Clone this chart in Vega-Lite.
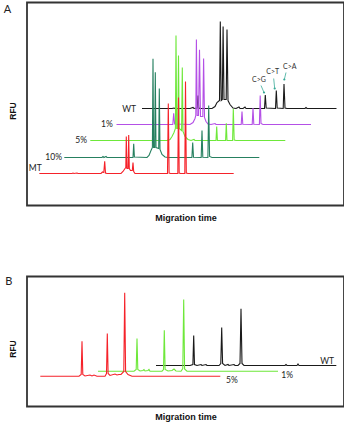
{
"$schema": "https://vega.github.io/schema/vega-lite/v6.json",
"padding": {"left": 2, "top": 1.5, "right": 0, "bottom": 0},
"spacing": 51,
"config": {"view": {"stroke": "#333", "strokeWidth": 1.8}, "axis": {"grid": false, "labels": false, "ticks": false, "domain": false, "titleFont": "Liberation Sans", "titleFontWeight": "bold", "titleFontSize": 9, "titleColor": "#111"}, "axisY": {"titleFontSize": 8.5}},
"datasets": {
"traces": [
{"p":"A","s":"WT","t":115,"v":97},{"p":"A","s":"WT","t":145,"v":97},{"p":"A","s":"WT","t":147,"v":97.5},{"p":"A","s":"WT","t":148,"v":97},{"p":"A","s":"WT","t":163,"v":97},{"p":"A","s":"WT","t":166,"v":98},{"p":"A","s":"WT","t":167,"v":97},{"p":"A","s":"WT","t":170.2,"v":97.5},{"p":"A","s":"WT","t":171,"v":110},{"p":"A","s":"WT","t":171.8,"v":97.5},{"p":"A","s":"WT","t":173,"v":97},{"p":"A","s":"WT","t":185,"v":97},{"p":"A","s":"WT","t":188,"v":99},{"p":"A","s":"WT","t":190,"v":103},{"p":"A","s":"WT","t":192.5,"v":105},{"p":"A","s":"WT","t":193.3,"v":184},{"p":"A","s":"WT","t":194.2,"v":105},{"p":"A","s":"WT","t":195.3,"v":106},{"p":"A","s":"WT","t":196.1,"v":179},{"p":"A","s":"WT","t":197,"v":106},{"p":"A","s":"WT","t":199.2,"v":106},{"p":"A","s":"WT","t":200,"v":176},{"p":"A","s":"WT","t":201,"v":105},{"p":"A","s":"WT","t":203,"v":101},{"p":"A","s":"WT","t":206,"v":97.5},{"p":"A","s":"WT","t":209,"v":97},{"p":"A","s":"WT","t":212,"v":98.5},{"p":"A","s":"WT","t":213,"v":97},{"p":"A","s":"WT","t":216,"v":97},{"p":"A","s":"WT","t":218,"v":98.5},{"p":"A","s":"WT","t":219,"v":97},{"p":"A","s":"WT","t":237.5,"v":97},{"p":"A","s":"WT","t":238.3,"v":110.5},{"p":"A","s":"WT","t":239.2,"v":97.5},{"p":"A","s":"WT","t":248.5,"v":97},{"p":"A","s":"WT","t":249.3,"v":115},{"p":"A","s":"WT","t":250.2,"v":97.5},{"p":"A","s":"WT","t":256.2,"v":97},{"p":"A","s":"WT","t":257,"v":121.5},{"p":"A","s":"WT","t":258,"v":97.5},{"p":"A","s":"WT","t":260,"v":97},{"p":"A","s":"WT","t":278,"v":97},{"p":"A","s":"WT","t":279,"v":98},{"p":"A","s":"WT","t":280,"v":97},{"p":"A","s":"WT","t":309.5,"v":97},
{"p":"A","s":"1%","t":89.5,"v":81},{"p":"A","s":"1%","t":125,"v":81},{"p":"A","s":"1%","t":145.8,"v":81},{"p":"A","s":"1%","t":146.7,"v":92.3},{"p":"A","s":"1%","t":147.6,"v":81.5},{"p":"A","s":"1%","t":163,"v":81},{"p":"A","s":"1%","t":166,"v":83},{"p":"A","s":"1%","t":168,"v":87},{"p":"A","s":"1%","t":168.8,"v":90},{"p":"A","s":"1%","t":169.4,"v":166},{"p":"A","s":"1%","t":170.2,"v":90},{"p":"A","s":"1%","t":171.5,"v":90},{"p":"A","s":"1%","t":172.5,"v":155.7},{"p":"A","s":"1%","t":173.5,"v":89},{"p":"A","s":"1%","t":175.8,"v":89},{"p":"A","s":"1%","t":176.6,"v":147},{"p":"A","s":"1%","t":177.5,"v":88},{"p":"A","s":"1%","t":179,"v":84},{"p":"A","s":"1%","t":181,"v":81.5},{"p":"A","s":"1%","t":184,"v":81},{"p":"A","s":"1%","t":188,"v":82},{"p":"A","s":"1%","t":189,"v":81},{"p":"A","s":"1%","t":214.2,"v":81},{"p":"A","s":"1%","t":215,"v":94},{"p":"A","s":"1%","t":215.8,"v":81.2},{"p":"A","s":"1%","t":225.2,"v":81},{"p":"A","s":"1%","t":226,"v":97.5},{"p":"A","s":"1%","t":226.8,"v":81.2},{"p":"A","s":"1%","t":232.4,"v":81},{"p":"A","s":"1%","t":233.2,"v":110},{"p":"A","s":"1%","t":234,"v":82},{"p":"A","s":"1%","t":236,"v":81},{"p":"A","s":"1%","t":284,"v":81},
{"p":"A","s":"5%","t":63.3,"v":65},{"p":"A","s":"5%","t":140,"v":65},{"p":"A","s":"5%","t":143,"v":66},{"p":"A","s":"5%","t":145,"v":69},{"p":"A","s":"5%","t":147,"v":73},{"p":"A","s":"5%","t":148.4,"v":77},{"p":"A","s":"5%","t":149,"v":170},{"p":"A","s":"5%","t":149.7,"v":77},{"p":"A","s":"5%","t":150.8,"v":77},{"p":"A","s":"5%","t":151.5,"v":150},{"p":"A","s":"5%","t":152.2,"v":77},{"p":"A","s":"5%","t":154.6,"v":75},{"p":"A","s":"5%","t":155.3,"v":138},{"p":"A","s":"5%","t":156,"v":74},{"p":"A","s":"5%","t":158,"v":69},{"p":"A","s":"5%","t":161,"v":66},{"p":"A","s":"5%","t":164,"v":65},{"p":"A","s":"5%","t":167,"v":66},{"p":"A","s":"5%","t":168,"v":65},{"p":"A","s":"5%","t":189,"v":65},{"p":"A","s":"5%","t":189.7,"v":79},{"p":"A","s":"5%","t":190.4,"v":65},{"p":"A","s":"5%","t":198.6,"v":65},{"p":"A","s":"5%","t":199.3,"v":82.3},{"p":"A","s":"5%","t":200,"v":65},{"p":"A","s":"5%","t":205.6,"v":65},{"p":"A","s":"5%","t":206.3,"v":96.7},{"p":"A","s":"5%","t":207.2,"v":65.5},{"p":"A","s":"5%","t":209,"v":65},{"p":"A","s":"5%","t":258.3,"v":65},
{"p":"A","s":"10%","t":37.3,"v":48},{"p":"A","s":"10%","t":75,"v":48},{"p":"A","s":"10%","t":76,"v":49},{"p":"A","s":"10%","t":77,"v":48},{"p":"A","s":"10%","t":79,"v":49},{"p":"A","s":"10%","t":80,"v":48},{"p":"A","s":"10%","t":106,"v":48},{"p":"A","s":"10%","t":106.7,"v":61.7},{"p":"A","s":"10%","t":107.4,"v":48.5},{"p":"A","s":"10%","t":120,"v":48},{"p":"A","s":"10%","t":122,"v":50},{"p":"A","s":"10%","t":124,"v":55},{"p":"A","s":"10%","t":125.4,"v":58},{"p":"A","s":"10%","t":126,"v":146.7},{"p":"A","s":"10%","t":126.6,"v":58},{"p":"A","s":"10%","t":127.7,"v":58},{"p":"A","s":"10%","t":128.3,"v":133.3},{"p":"A","s":"10%","t":129,"v":58},{"p":"A","s":"10%","t":131.7,"v":57},{"p":"A","s":"10%","t":132.3,"v":117},{"p":"A","s":"10%","t":133,"v":56},{"p":"A","s":"10%","t":135,"v":51},{"p":"A","s":"10%","t":138,"v":48.5},{"p":"A","s":"10%","t":141,"v":48},{"p":"A","s":"10%","t":164.9,"v":48},{"p":"A","s":"10%","t":165.7,"v":63},{"p":"A","s":"10%","t":166.5,"v":48.2},{"p":"A","s":"10%","t":174.2,"v":48},{"p":"A","s":"10%","t":175,"v":75},{"p":"A","s":"10%","t":175.8,"v":48.2},{"p":"A","s":"10%","t":180.9,"v":48},{"p":"A","s":"10%","t":181.7,"v":100},{"p":"A","s":"10%","t":182.6,"v":49},{"p":"A","s":"10%","t":185,"v":48},{"p":"A","s":"10%","t":232.3,"v":48},
{"p":"A","s":"MT","t":12.3,"v":32},{"p":"A","s":"MT","t":45,"v":32},{"p":"A","s":"MT","t":46,"v":32.5},{"p":"A","s":"MT","t":47,"v":32},{"p":"A","s":"MT","t":50,"v":32.5},{"p":"A","s":"MT","t":51,"v":32},{"p":"A","s":"MT","t":74,"v":32},{"p":"A","s":"MT","t":75.5,"v":33.5},{"p":"A","s":"MT","t":76.8,"v":33},{"p":"A","s":"MT","t":77.7,"v":44.3},{"p":"A","s":"MT","t":78.5,"v":32.5},{"p":"A","s":"MT","t":80,"v":32},{"p":"A","s":"MT","t":94,"v":32},{"p":"A","s":"MT","t":96,"v":34},{"p":"A","s":"MT","t":98,"v":37},{"p":"A","s":"MT","t":98.8,"v":38},{"p":"A","s":"MT","t":99.3,"v":69},{"p":"A","s":"MT","t":99.9,"v":37},{"p":"A","s":"MT","t":101.1,"v":37},{"p":"A","s":"MT","t":101.7,"v":70.5},{"p":"A","s":"MT","t":102.3,"v":37},{"p":"A","s":"MT","t":103.5,"v":35},{"p":"A","s":"MT","t":105.3,"v":35},{"p":"A","s":"MT","t":106,"v":43},{"p":"A","s":"MT","t":106.7,"v":34},{"p":"A","s":"MT","t":108,"v":32},{"p":"A","s":"MT","t":125,"v":32},{"p":"A","s":"MT","t":140.5,"v":32},{"p":"A","s":"MT","t":141.3,"v":102},{"p":"A","s":"MT","t":142.1,"v":32.5},{"p":"A","s":"MT","t":143.5,"v":32},{"p":"A","s":"MT","t":150.8,"v":32},{"p":"A","s":"MT","t":151.5,"v":108},{"p":"A","s":"MT","t":152.2,"v":32.5},{"p":"A","s":"MT","t":153.5,"v":32},{"p":"A","s":"MT","t":157.8,"v":32},{"p":"A","s":"MT","t":158.5,"v":124},{"p":"A","s":"MT","t":159.3,"v":32.5},{"p":"A","s":"MT","t":161,"v":32},{"p":"A","s":"MT","t":206.7,"v":32},
{"p":"B","s":"WT","t":129,"v":41},{"p":"B","s":"WT","t":163,"v":41},{"p":"B","s":"WT","t":165.9,"v":42},{"p":"B","s":"WT","t":166.7,"v":71},{"p":"B","s":"WT","t":167.5,"v":42},{"p":"B","s":"WT","t":170,"v":41},{"p":"B","s":"WT","t":174,"v":42},{"p":"B","s":"WT","t":175,"v":41},{"p":"B","s":"WT","t":179,"v":42},{"p":"B","s":"WT","t":180,"v":41},{"p":"B","s":"WT","t":192,"v":41},{"p":"B","s":"WT","t":193.8,"v":43},{"p":"B","s":"WT","t":194.7,"v":79},{"p":"B","s":"WT","t":195.6,"v":43},{"p":"B","s":"WT","t":198,"v":41},{"p":"B","s":"WT","t":201,"v":42},{"p":"B","s":"WT","t":202,"v":41},{"p":"B","s":"WT","t":207,"v":42},{"p":"B","s":"WT","t":208,"v":41},{"p":"B","s":"WT","t":211,"v":41},{"p":"B","s":"WT","t":213,"v":43},{"p":"B","s":"WT","t":214,"v":97.7},{"p":"B","s":"WT","t":215,"v":43},{"p":"B","s":"WT","t":217,"v":41},{"p":"B","s":"WT","t":258,"v":41},{"p":"B","s":"WT","t":259,"v":42},{"p":"B","s":"WT","t":260,"v":41},{"p":"B","s":"WT","t":270,"v":41},{"p":"B","s":"WT","t":271,"v":42.5},{"p":"B","s":"WT","t":272,"v":41},{"p":"B","s":"WT","t":309.3,"v":41},
{"p":"B","s":"1%","t":71,"v":35.3},{"p":"B","s":"1%","t":107,"v":35.3},{"p":"B","s":"1%","t":109.2,"v":37},{"p":"B","s":"1%","t":110,"v":68},{"p":"B","s":"1%","t":110.8,"v":37},{"p":"B","s":"1%","t":113,"v":35.5},{"p":"B","s":"1%","t":116,"v":36},{"p":"B","s":"1%","t":117,"v":37},{"p":"B","s":"1%","t":118,"v":35.5},{"p":"B","s":"1%","t":121,"v":36},{"p":"B","s":"1%","t":122,"v":37},{"p":"B","s":"1%","t":123,"v":35.3},{"p":"B","s":"1%","t":135,"v":35.3},{"p":"B","s":"1%","t":136.5,"v":37},{"p":"B","s":"1%","t":137.3,"v":76.3},{"p":"B","s":"1%","t":138.1,"v":37},{"p":"B","s":"1%","t":141,"v":35.5},{"p":"B","s":"1%","t":145,"v":36},{"p":"B","s":"1%","t":147,"v":37.5},{"p":"B","s":"1%","t":149,"v":35.5},{"p":"B","s":"1%","t":154,"v":35.3},{"p":"B","s":"1%","t":155.8,"v":38},{"p":"B","s":"1%","t":156.7,"v":107},{"p":"B","s":"1%","t":157.6,"v":37.5},{"p":"B","s":"1%","t":160,"v":35.3},{"p":"B","s":"1%","t":251,"v":35.3},
{"p":"B","s":"5%","t":13.3,"v":30.3},{"p":"B","s":"5%","t":52,"v":30.3},{"p":"B","s":"5%","t":54.2,"v":32},{"p":"B","s":"5%","t":55,"v":65.3},{"p":"B","s":"5%","t":55.8,"v":32},{"p":"B","s":"5%","t":58,"v":30.5},{"p":"B","s":"5%","t":63,"v":31.5},{"p":"B","s":"5%","t":65,"v":30.5},{"p":"B","s":"5%","t":67,"v":31.5},{"p":"B","s":"5%","t":70,"v":30.3},{"p":"B","s":"5%","t":78,"v":30.3},{"p":"B","s":"5%","t":79.5,"v":33},{"p":"B","s":"5%","t":80.3,"v":73},{"p":"B","s":"5%","t":81.1,"v":33},{"p":"B","s":"5%","t":83,"v":31},{"p":"B","s":"5%","t":88,"v":32.5},{"p":"B","s":"5%","t":90,"v":31.5},{"p":"B","s":"5%","t":92,"v":32},{"p":"B","s":"5%","t":94,"v":32},{"p":"B","s":"5%","t":96.8,"v":35},{"p":"B","s":"5%","t":97.7,"v":113.7},{"p":"B","s":"5%","t":98.6,"v":35},{"p":"B","s":"5%","t":101,"v":32},{"p":"B","s":"5%","t":105,"v":30.3},{"p":"B","s":"5%","t":193.3,"v":30.3}
],
"labels": [
{"p":"A","k":"right","txt":"WT","t":110,"v":97},
{"p":"A","k":"right","txt":"1%","t":86.7,"v":82},
{"p":"A","k":"right","txt":"5%","t":61,"v":65.7},
{"p":"A","k":"right","txt":"10%","t":36,"v":49},
{"p":"A","k":"right","txt":"MT","t":15.7,"v":37.5},
{"p":"B","k":"right","txt":"WT","t":307,"v":45.3},
{"p":"B","k":"left","txt":"1%","t":254.3,"v":32},
{"p":"B","k":"left","txt":"5%","t":199,"v":26.3}
],
"panels": [
{"p":"A","txt":"A","t":-19.5,"v":196},
{"p":"B","txt":"B","t":-18.3,"v":125}
],
"mutations": [
{"txt":"C>G","t":232,"v":126,"t1":234,"v1":120,"t2":237,"v2":113},
{"txt":"C>T","t":245.7,"v":133.3,"t1":246.7,"v1":127,"t2":247.7,"v2":117},
{"txt":"C>A","t":262.7,"v":139,"t1":259,"v1":133,"t2":257.3,"v2":126}
]
},
"vconcat": [
{
"width": 317, "height": 203,
"layer": [
{"data": {"name": "traces"}, "transform": [{"filter": "datum.p === 'A'"}],
 "mark": {"type": "line", "strokeWidth": 1.1},
 "encoding": {
  "x": {"field": "t", "type": "quantitative", "scale": {"domain": [0, 317], "nice": false, "zero": false}, "axis": {"title": "Migration time", "titlePadding": 8}},
  "y": {"field": "v", "type": "quantitative", "scale": {"domain": [0, 203], "nice": false, "zero": false}, "axis": {"title": "RFU", "titleX": -10, "titleY": 108}},
  "color": {"field": "s", "type": "nominal", "scale": {"domain": ["WT", "1%", "5%", "10%", "MT"], "range": ["#1a1a1a", "#b450e6", "#6ee83a", "#268060", "#f5222a"]}, "legend": null}
 }},
{"data": {"name": "labels"}, "transform": [{"filter": "datum.p === 'A'"}],
 "mark": {"type": "text", "align": "right", "baseline": "middle", "font": "Lato", "fontSize": 8.5, "color": "#222", "dx": -1},
 "encoding": {"x": {"field": "t", "type": "quantitative"}, "y": {"field": "v", "type": "quantitative"}, "text": {"field": "txt"}}},
{"data": {"name": "panels"}, "transform": [{"filter": "datum.p === 'A'"}],
 "mark": {"type": "text", "align": "center", "baseline": "middle", "font": "Lato", "fontSize": 11, "color": "#222"},
 "encoding": {"x": {"field": "t", "type": "quantitative"}, "y": {"field": "v", "type": "quantitative"}, "text": {"field": "txt"}}},
{"data": {"name": "mutations"},
 "mark": {"type": "rule", "color": "#3aaa98", "strokeWidth": 0.8},
 "encoding": {"x": {"field": "t1", "type": "quantitative"}, "y": {"field": "v1", "type": "quantitative"}, "x2": {"field": "t2"}, "y2": {"field": "v2"}}},
{"data": {"name": "mutations"},
 "mark": {"type": "point", "filled": true, "color": "#3aaa98", "size": 5, "opacity": 1},
 "encoding": {"x": {"field": "t2", "type": "quantitative"}, "y": {"field": "v2", "type": "quantitative"}}},
{"data": {"name": "mutations"},
 "mark": {"type": "text", "align": "center", "baseline": "middle", "font": "Lato", "fontSize": 7, "color": "#333"},
 "encoding": {"x": {"field": "t", "type": "quantitative"}, "y": {"field": "v", "type": "quantitative"}, "text": {"field": "txt"}}}
]
},
{
"width": 317, "height": 130,
"layer": [
{"data": {"name": "traces"}, "transform": [{"filter": "datum.p === 'B'"}],
 "mark": {"type": "line", "strokeWidth": 1.1},
 "encoding": {
  "x": {"field": "t", "type": "quantitative", "scale": {"domain": [0, 317], "nice": false, "zero": false}, "axis": {"title": "Migration time", "titlePadding": 6}},
  "y": {"field": "v", "type": "quantitative", "scale": {"domain": [0, 130], "nice": false, "zero": false}, "axis": {"title": "RFU", "titleX": -10, "titleY": 72}},
  "color": {"field": "s", "type": "nominal", "scale": {"domain": ["WT", "1%", "5%"], "range": ["#1a1a1a", "#6ee83a", "#f5222a"]}, "legend": null}
 }},
{"data": {"name": "labels"}, "transform": [{"filter": "datum.p === 'B' && datum.k === 'right'"}],
 "mark": {"type": "text", "align": "right", "baseline": "middle", "font": "Lato", "fontSize": 8.5, "color": "#222"},
 "encoding": {"x": {"field": "t", "type": "quantitative"}, "y": {"field": "v", "type": "quantitative"}, "text": {"field": "txt"}}},
{"data": {"name": "labels"}, "transform": [{"filter": "datum.p === 'B' && datum.k === 'left'"}],
 "mark": {"type": "text", "align": "left", "baseline": "middle", "font": "Lato", "fontSize": 8.5, "color": "#222"},
 "encoding": {"x": {"field": "t", "type": "quantitative"}, "y": {"field": "v", "type": "quantitative"}, "text": {"field": "txt"}}},
{"data": {"name": "panels"}, "transform": [{"filter": "datum.p === 'B'"}],
 "mark": {"type": "text", "align": "center", "baseline": "middle", "font": "Lato", "fontSize": 11, "color": "#222"},
 "encoding": {"x": {"field": "t", "type": "quantitative"}, "y": {"field": "v", "type": "quantitative"}, "text": {"field": "txt"}}}
]
}
],
"resolve": {"scale": {"color": "independent"}}
}
